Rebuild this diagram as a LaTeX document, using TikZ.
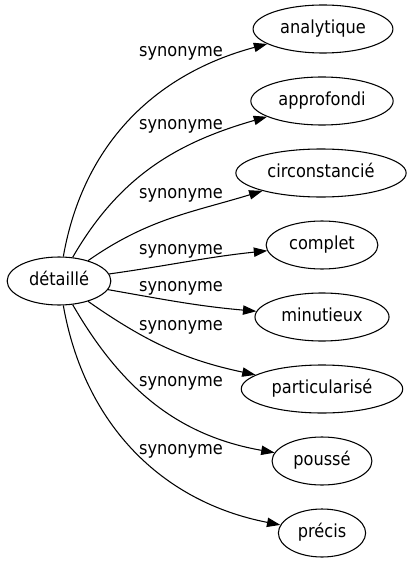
\documentclass[tikz,border=0pt]{standalone}
\usepackage{fontspec}
\setmainfont{DejaVu Sans Condensed}
\usepackage{tikz}
\usetikzlibrary{arrows.meta,shapes.geometric}

\tikzset{
	>={Triangle[length=10pt,width=7pt]},
	every node/.append style={font=\fontsize{13.5}{16}\selectfont},
	word/.style = {
			ellipse,
			draw,
			inner xsep      = 5pt,
			inner ysep      = 0pt,
			minimum height  = 36pt,
			text height     = 10pt,
			text depth      = 3pt,
		},
	rel/.style = {
			inner sep = 0pt,
		},
}

\begin{document}
\begin{tikzpicture}[x=0.75pt,y=-0.75pt,line width=0.8pt]
		\useasboundingbox (0,0) rectangle (411,563);

		\node[word] at (59,281) (detaille) {détaillé};

		\node[word] at (323,29) (analytique) {analytique};
		\node[word] at (322,101) (approfondi) {approfondi};
		\node[word] at (321,173) (circonstancie) {circonstancié};
		\node[word] at (322,245) (complet) {complet};
		\node[word] at (322,317) (minutieux) {minutieux};
		\node[word] at (322,389) (particularise) {particularisé};
		\node[word] at (322,461) (pousse) {poussé};
		\node[word] at (322,533) (precis) {précis};

		\node[rel] at (181,53) (syn1) {synonyme};
		\node[rel] at (181,126) (syn2) {synonyme};
		\node[rel] at (181,195) (syn3) {synonyme};
		\node[rel] at (181,251) (syn4) {synonyme};
		\node[rel] at (181,288) (syn5) {synonyme};
		\node[rel] at (181,327) (syn6) {synonyme};
		\node[rel] at (181,383) (syn7) {synonyme};
		\node[rel] at (181,451) (syn8) {synonyme};

		\draw[->] (detaille) to[out=80,in=195] (analytique);
		\draw[->] (detaille) to[out=60,in=196] (approfondi);
		\draw[->] (detaille) to[out=35,in=197] (circonstancie);
		\draw[->] (detaille) to[out=8,in=186] (complet);
		\draw[->] (detaille) to[out=-10,in=175] (minutieux);
		\draw[->] (detaille) to[out=-35,in=168] (particularise);
		\draw[->] (detaille) to[out=-60,in=170] (pousse);
		\draw[->] (detaille) to[out=-80,in=169] (precis);
	\end{tikzpicture}
\end{document}
